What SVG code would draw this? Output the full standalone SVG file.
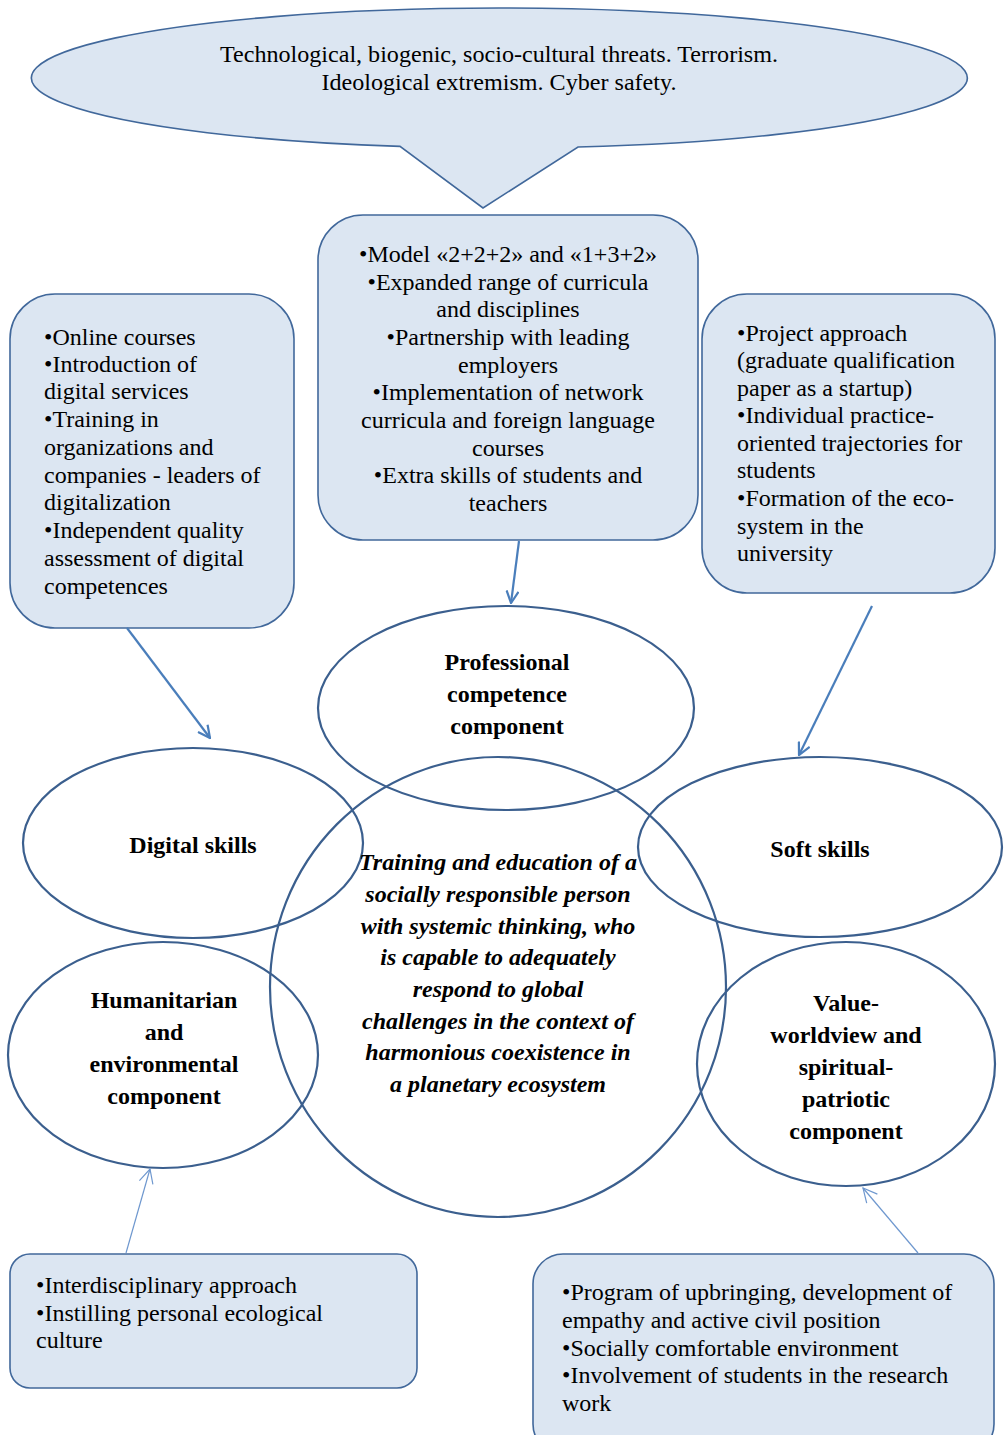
<svg xmlns="http://www.w3.org/2000/svg" width="1006" height="1435" viewBox="0 0 1006 1435">
<style>
.box{fill:#dce6f2;stroke:#41689b;stroke-width:1.6}
.ell{fill:none;stroke:#3b5f8e;stroke-width:2.2}
.t{font-family:"Liberation Serif","Times New Roman",serif;font-size:24px;fill:#000}
.c{text-anchor:middle}
.b{font-weight:bold;font-size:24px}
.i{font-weight:bold;font-style:italic;font-size:24px}
.ar{fill:none;stroke:#4a7ebb;stroke-width:2.2}
.ar2{fill:none;stroke:#6f98cf;stroke-width:1.2}
</style>
<defs>
<marker id="ah" viewBox="0 0 14 14" refX="13" refY="7" markerWidth="14" markerHeight="14" markerUnits="userSpaceOnUse" orient="auto">
<path d="M1,1 L13,7 L1,13" fill="none" stroke="#4a7ebb" stroke-width="2.2"/>
</marker>
<marker id="ah2" viewBox="0 0 16 16" refX="15" refY="8" markerWidth="16" markerHeight="16" markerUnits="userSpaceOnUse" orient="auto">
<path d="M1,1 L15,8 L1,15" fill="none" stroke="#6f98cf" stroke-width="1.2"/>
</marker>
</defs>
<rect width="1006" height="1435" fill="#fff"/>

<g id="threats">
<path class="box" stroke-width="2.2" d="M400,146.4 A468,70 0 1 1 578,147 L483,208 Z"/>
<text class="t c" x="499" y="62" textLength="558" lengthAdjust="spacingAndGlyphs">Technological, biogenic, socio-cultural threats. Terrorism.</text>
<text class="t c" x="499" y="90" textLength="355" lengthAdjust="spacingAndGlyphs">Ideological extremism. Cyber safety.</text>
</g>

<g id="center-box">
<rect class="box" x="318" y="215" width="380" height="325" rx="45"/>
<text class="t c" x="508" y="262">•Model «2+2+2» and «1+3+2»</text>
<text class="t c" x="508" y="290">•Expanded range of curricula</text>
<text class="t c" x="508" y="317">and disciplines</text>
<text class="t c" x="508" y="345">•Partnership with leading</text>
<text class="t c" x="508" y="373">employers</text>
<text class="t c" x="508" y="400">•Implementation of network</text>
<text class="t c" x="508" y="428">curricula and foreign language</text>
<text class="t c" x="508" y="456">courses</text>
<text class="t c" x="508" y="483">•Extra skills of students and</text>
<text class="t c" x="508" y="511">teachers</text>
</g>

<g id="left-box">
<rect class="box" x="10" y="294" width="284" height="334" rx="45"/>
<text class="t" x="44" y="345">•Online courses</text>
<text class="t" x="44" y="372">•Introduction of</text>
<text class="t" x="44" y="399">digital services</text>
<text class="t" x="44" y="427">•Training in</text>
<text class="t" x="44" y="455">organizations and</text>
<text class="t" x="44" y="483">companies - leaders of</text>
<text class="t" x="44" y="510">digitalization</text>
<text class="t" x="44" y="538">•Independent quality</text>
<text class="t" x="44" y="566">assessment of digital</text>
<text class="t" x="44" y="594">competences</text>
</g>

<g id="right-box">
<rect class="box" x="702" y="294" width="293" height="299" rx="45"/>
<text class="t" x="737" y="341">•Project approach</text>
<text class="t" x="737" y="368">(graduate qualification</text>
<text class="t" x="737" y="396">paper as a startup)</text>
<text class="t" x="737" y="423">•Individual practice-</text>
<text class="t" x="737" y="451">oriented trajectories for</text>
<text class="t" x="737" y="478">students</text>
<text class="t" x="737" y="506">•Formation of the eco-</text>
<text class="t" x="737" y="534">system in the</text>
<text class="t" x="737" y="561">university</text>
</g>

<g id="bottom-left-box">
<rect class="box" x="10" y="1254" width="407" height="134" rx="20"/>
<text class="t" x="36" y="1293">•Interdisciplinary approach</text>
<text class="t" x="36" y="1321">•Instilling personal ecological</text>
<text class="t" x="36" y="1348">culture</text>
</g>

<g id="bottom-right-box">
<rect class="box" x="533" y="1254" width="461" height="200" rx="30"/>
<text class="t" x="562" y="1300">•Program of upbringing, development of</text>
<text class="t" x="562" y="1328">empathy and active civil position</text>
<text class="t" x="562" y="1356">•Socially comfortable environment</text>
<text class="t" x="562" y="1383">•Involvement of students in the research</text>
<text class="t" x="562" y="1411">work</text>
</g>

<g id="professional">
<ellipse class="ell" cx="506" cy="708" rx="188" ry="102"/>
<text class="t c b" x="507" y="670">Professional</text>
<text class="t c b" x="507" y="702">competence</text>
<text class="t c b" x="507" y="734">component</text>
</g>

<g id="digital">
<ellipse class="ell" cx="193" cy="843" rx="170" ry="95"/>
<text class="t c b" x="193" y="853">Digital skills</text>
</g>

<g id="soft">
<ellipse class="ell" cx="820" cy="847" rx="182" ry="90"/>
<text class="t c b" x="820" y="857">Soft skills</text>
</g>

<g id="central">
<ellipse class="ell" cx="498" cy="987" rx="228" ry="230"/>
<text class="t c i" x="498" y="870">Training and education of a</text>
<text class="t c i" x="498" y="902">socially responsible person</text>
<text class="t c i" x="498" y="934">with systemic thinking, who</text>
<text class="t c i" x="498" y="965">is capable to adequately</text>
<text class="t c i" x="498" y="997">respond to global</text>
<text class="t c i" x="498" y="1029">challenges in the context of</text>
<text class="t c i" x="498" y="1060">harmonious coexistence in</text>
<text class="t c i" x="498" y="1092">a planetary ecosystem</text>
</g>

<g id="humanitarian">
<ellipse class="ell" cx="163" cy="1055" rx="155" ry="113"/>
<text class="t c b" x="164" y="1008">Humanitarian</text>
<text class="t c b" x="164" y="1040">and</text>
<text class="t c b" x="164" y="1072">environmental</text>
<text class="t c b" x="164" y="1104">component</text>
</g>

<g id="value">
<ellipse class="ell" cx="846" cy="1064" rx="149" ry="122"/>
<text class="t c b" x="846" y="1011">Value-</text>
<text class="t c b" x="846" y="1043">worldview and</text>
<text class="t c b" x="846" y="1075">spiritual-</text>
<text class="t c b" x="846" y="1107">patriotic</text>
<text class="t c b" x="846" y="1139">component</text>
</g>

<g id="connectors">
<line class="ar" x1="127" y1="628" x2="210" y2="738" marker-end="url(#ah)"/>
<line class="ar" x1="519" y1="541" x2="511" y2="603" marker-end="url(#ah)"/>
<line class="ar" x1="872" y1="606" x2="799" y2="755" marker-end="url(#ah)"/>
<line class="ar2" x1="126" y1="1253" x2="150" y2="1169" marker-end="url(#ah2)"/>
<line class="ar2" x1="918" y1="1253" x2="863" y2="1188" marker-end="url(#ah2)"/>
</g>
</svg>
